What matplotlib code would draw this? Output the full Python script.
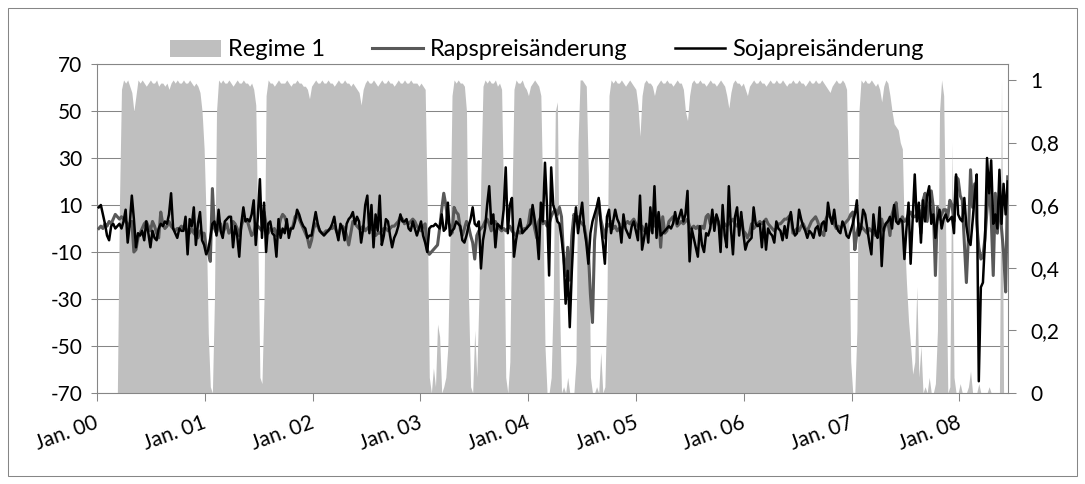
import matplotlib
matplotlib.use("Agg")
import matplotlib.pyplot as plt
import pandas as pd
from matplotlib.patches import Rectangle, Patch
from matplotlib.lines import Line2D

plt.rcParams['font.family'] = ['Lato', 'DejaVu Sans']
plt.rcParams['axes.unicode_minus'] = False

# Weekly price changes, first observation 7 Jan 2000
soja = [
    9, 10, 6, 2, -3, -5, 1, 2, 0, 1,
    2, 0, 3, 8, -6, 2, 14, 4, -8, -2,
    -3, -1, -5, 3, -2, -8, -1, -4, -5, 0,
    2, 1, 3, 2, 6, 15, 0, -2, -4, 0,
    -1, -1, 5, -11, 4, 1, 9, -7, 2, 7,
    -5, -7, -11, -9, -4, 2, 3, -3, 8, -1,
    -4, 3, 4, 5, 5, -8, 1, -3, -12, 2,
    9, 3, 4, 3, 6, 12, -7, 5, 21, -4,
    11, -10, 2, 3, -2, -3, -12, 4, -4, 0,
    -2, 4, -4, 0, 0, 3, 8, 6, 3, 1,
    0, -4, -3, -3, 2, 7, 2, -1, -2, -3,
    -2, -1, 0, 2, 5, -1, -5, 2, 0, -5,
    2, 4, 5, 7, 2, 5, 3, -6, 0, 10,
    14, -2, 10, -8, 6, -1, 14, -7, -3, 4,
    3, -3, -8, -4, -2, 1, 6, 3, 3, 4,
    0, -1, 3, 0, -3, 0, 3, -3, -6, -10,
    0, 1, 1, 2, 1, 0, 6, -1, 0, 11,
    -3, -1, 0, 3, 2, 1, -5, -6, -3, 1,
    4, 9, 2, 1, 3, -17, -5, 0, 10, 18,
    2, 6, -8, 2, 1, 0, 8, 26, -2, 10,
    13, -12, -5, 0, 4, -2, -1, 0, 1, 2,
    10, 4, -2, -13, 11, 3, 28, 9, -20, 26,
    10, 7, 3, 2, -4, -12, -32, -18, -42, -18,
    0, 9, -2, 5, 11, 0, -6, -15, -2, 3,
    6, 9, 13, 2, -6, -15, 5, 8, -2, 3,
    8, 4, 2, -6, 6, 0, -2, -4, 1, 3,
    -1, -5, 14, -9, -4, 2, -6, 9, -2, 18,
    -4, 7, -3, -2, -1, 0, 1, 0, 2, 7,
    2, 5, 8, 3, 6, 16, -14, 0, -4, -8,
    -12, 1, -7, -10, -2, -3, 0, 8, -1, 6,
    3, -10, 10, -3, -8, 18, 0, -11, 5, 9,
    -3, 7, -2, -9, -6, -5, -4, 9, 2, 1,
    2, -8, 3, -9, 0, -2, -3, -6, 3, 0,
    -1, -5, 1, -4, 3, 7, 0, -3, -2, 8,
    4, 1, -1, -4, -1, -2, -4, 0, 1, -3,
    2, 3, -1, 11, 5, 2, 8, 1, -1, -2,
    3, 1, -3, -4, -1, 2, 6, 12, -3, 0,
    8, 6, 0, -6, -11, 6, -2, -4, 9, -16,
    0, 2, 3, 5, 0, 10, 3, 2, 4, 3,
    -13, 0, 11, -15, 4, 23, 3, 11, -6, 12,
    3, 14, 18, 2, 6, -4, 4, 8, 0, 4,
    6, 3, 4, 5, -2, 23, 6, 4, 3, 13,
    1, -5, -7, 3, 14, 23, -65, -25, -23, -5,
    30, 15, 29, 2, 6, 0, 25, 2, 19, 6, 20,
]

raps = [
    0, 1, 0, 2, 1, 3, 2, 4, 6, 5,
    4, 5, 4, 3, 2, 1, 3, -10, -9, -4,
    -2, 0, 2, 3, 1, -1, 3, 1, -2, -4,
    7, 2, 0, 1, 3, 1, 0, -1, 0, 0,
    1, 0, 0, -1, -2, 0, -2, -3, -4, -1,
    -2, -2, -8, -10, -14, 17, 0, -2, 1, 2,
    -2, 0, 2, -2, -1, 3, 2, 0, -3, 1,
    4, 4, 3, 0, -3, -2, 2, 1, 0, -1,
    7, 2, -2, 0, -1, 0, -3, 0, 4, 6,
    5, 2, -2, 0, 1, 5, 6, 4, 2, 0,
    -2, -4, -8, -5, 0, 2, 1, -1, -2, -2,
    -1, -1, 0, 0, 1, -1, -3, 0, 1, 0,
    -3, -7, -2, 3, 2, 1, 0, 0, 1, -1,
    0, 1, 0, -1, -3, -2, -2, -1, 0, 0,
    -1, 0, 1, 1, 2, 3, 5, 4, 2, 3,
    2, 3, 4, 3, 1, 0, -1, 1, 2, -9,
    -11, -10, -9, -8, -7, 0, 8, 15, 10, 3,
    1, -2, 9, 7, 6, 0, -3, 0, 3, 1,
    -3, -6, -13, -3, -1, 0, 1, 3, 4, 2,
    -1, 2, 3, 1, 0, -1, 0, -1, 0, 1,
    -1, -2, -3, -1, -2, -1, 0, 0, 2, 8,
    5, 0, -4, 3, 5, 2, 3, 1, 2, 5,
    7, 8, 6, 9, 5, -12, -20, -8, -22, -3,
    6, 4, 5, 3, 2, 1, -4, -10, -28, -40,
    -5, 5, 12, 4, 0, -4, 2, 1, 3, 0,
    1, -1, 0, 0, 1, 2, 3, 2, 3, 4,
    2, 1, 0, 1, -1, 0, -2, 0, 2, 1,
    5, 6, -8, 5, -2, -1, 3, 4, 5, 4,
    1, 2, 3, 2, 3, 4, 1, 0, 1, 0,
    1, -1, 1, 0, 5, 6, 2, 3, 4, 5,
    2, 0, 1, 2, 1, 2, 3, 4, 2, 1,
    2, 5, -1, -2, -4, -2, 2, 0, 1, 2,
    3, 2, 3, 4, 2, 1, 0, -1, 0, 2,
    2, 3, 4, 4, 5, 6, -2, -1, 0, -1,
    1, 2, 0, -1, 1, 3, 4, 5, 3, 0,
    -2, -3, 4, 6, 5, 4, 2, 0, 1, 0,
    1, 2, 3, 4, 6, 7, -9, -2, 2, 1,
    0, -1, -2, 0, -1, -2, -3, -1, 0, 4,
    -1, 2, 3, -3, 6, 9, 11, 2, 3, 5,
    3, 4, 6, 7, 5, 5, 6, 8, -2, 12,
    15, 3, 10, 16, 9, -20, 9, 4, 6, 8,
    8, 5, 12, 10, 3, 22, 21, 14, 12, -6,
    -23, -3, 25, 9, 19, 2, -8, -13, -12, -4,
    8, 19, 5, -20, 15, -2, 14, 0, -10, -27, 22,
]

# Smoothed probability of regime 1
regime = [
    0, 0, 0, 0, 0, 0, 0, 0, 0, 0,
    0.6, 0.97, 1.0, 0.99, 1.0, 0.98, 0.96, 0.90, 0.95, 1.0,
    0.99, 1.0, 0.99, 0.98, 0.99, 1.0, 0.99, 0.99, 1.0, 0.98,
    0.99, 0.99, 0.98, 0.99, 0.97, 0.99, 1.0, 0.99, 1.0, 0.99,
    0.99, 1.0, 0.99, 0.99, 1.0, 0.99, 0.98, 0.99, 0.98, 0.96,
    0.90, 0.78, 0.55, 0.19, 0.02, 0.0, 0.3, 0.9, 1.0, 0.99,
    1.0, 0.99, 0.99, 1.0, 0.99, 0.98, 0.99, 1.0, 0.99, 0.99,
    1.0, 0.99, 0.99, 0.98, 0.99, 0.97, 0.92, 0.5, 0.05, 0.03,
    0.3, 0.95, 1.0, 0.99, 0.99, 0.98, 0.99, 1.0, 0.99, 0.99,
    0.99, 1.0, 0.99, 0.98, 0.99, 0.99, 1.0, 0.99, 0.99, 0.98,
    0.98, 0.97, 0.94, 0.98, 0.99, 1.0, 0.99, 0.99, 1.0, 0.99,
    0.99, 1.0, 0.99, 0.99, 0.98, 0.99, 1.0, 0.99, 0.99, 1.0,
    0.99, 0.99, 0.98, 0.99, 0.98, 0.97, 0.96, 0.92, 0.97, 0.99,
    1.0, 0.99, 0.99, 1.0, 0.99, 0.98, 0.99, 1.0, 0.99, 0.99,
    1.0, 0.99, 0.99, 0.98, 0.99, 1.0, 0.99, 0.99, 1.0, 0.99,
    0.99, 1.0, 0.99, 0.99, 0.99, 0.98, 0.99, 0.98, 0.97, 0.6,
    0.05, 0.0, 0.08, 0.02, 0.22, 0.18, 0.0, 0.02, 0.05, 0.15,
    0.5, 0.95, 1.0, 0.99, 1.0, 0.99, 0.99, 0.98, 0.9, 0.3,
    0.02, 0.0, 0.2, 0.05, 0.3, 0.7, 0.98, 1.0, 0.99, 1.0,
    0.99, 0.99, 1.0, 0.98, 0.99, 0.97, 0.6, 0.05, 0.0, 0.1,
    0.6, 0.97, 1.0, 0.99, 0.99, 1.0, 0.98, 0.97, 0.95, 0.98,
    0.99, 1.0, 0.99, 0.98, 0.95, 0.6, 0.15, 0.0, 0.0, 0.05,
    0.3, 0.9, 0.93, 0.3, 0.0, 0.02, 0.0, 0.05, 0.0, 0.0,
    0.0, 0.1, 0.8, 1.0, 1.0, 0.99, 0.98, 0.7, 0.05, 0.0,
    0.0, 0.02, 0.0, 0.13, 0.0, 0.02, 0.3, 0.95, 1.0, 0.99,
    1.0, 0.99, 0.99, 1.0, 0.99, 0.98, 0.99, 1.0, 0.99, 0.98,
    0.97, 0.92, 0.82, 0.95, 0.99, 1.0, 0.99, 0.99, 0.98, 0.95,
    0.98, 0.99, 1.0, 0.99, 0.99, 1.0, 0.99, 0.99, 0.98, 0.99,
    1.0, 0.99, 0.99, 0.97, 0.9, 0.87, 0.95, 0.99, 1.0, 0.99,
    0.99, 1.0, 0.99, 0.99, 0.98, 0.99, 1.0, 0.99, 0.99, 0.98,
    0.99, 1.0, 0.99, 0.98, 0.95, 0.91, 0.96, 0.99, 1.0, 0.99,
    0.99, 0.98, 0.99, 0.97, 0.95, 0.98, 0.99, 1.0, 0.99, 0.99,
    1.0, 0.99, 0.99, 0.98, 0.99, 1.0, 0.99, 0.99, 1.0, 0.99,
    0.99, 1.0, 0.99, 0.98, 0.99, 0.99, 1.0, 0.99, 0.99, 1.0,
    0.99, 0.99, 0.98, 0.99, 1.0, 0.99, 0.99, 1.0, 0.99, 0.99,
    1.0, 0.99, 0.98, 0.97, 0.96, 0.98, 0.99, 1.0, 0.99, 0.99,
    1.0, 0.99, 0.97, 0.62, 0.1, 0.0, 0.0, 0.2, 0.9, 1.0,
    0.99, 1.0, 0.99, 0.99, 1.0, 0.99, 0.98, 0.99, 0.97, 0.93,
    0.98, 1.0, 0.99, 0.95, 0.9, 0.86, 0.85, 0.84, 0.8, 0.78,
    0.5, 0.35, 0.23, 0.15, 0.06, 0.1, 0.34, 0.05, 0.15, 0.0,
    0.02, 0.0, 0.05, 0.0, 0.0, 0.03, 0.2, 0.9, 1.0, 0.95,
    0.5, 0.0, 0.02, 0.8, 0.05, 0.0, 0.0, 0.03, 0.0, 0.0,
    0.0, 0.02, 0.07, 0.0, 0.0, 0.0, 0.03, 0.0, 0.0, 0.0,
    0.0, 0.02, 0.0, 0.0, 0.0, 0.0, 0.0, 1.0, 0.0, 0.0, 0.0,
]

year_labels = ["Jan. 00", "Jan. 01", "Jan. 02", "Jan. 03", "Jan. 04",
               "Jan. 05", "Jan. 06", "Jan. 07", "Jan. 08"]
left_ticks = [-70, -50, -30, -10, 10, 30, 50, 70]
right_ticks = [0, 0.2, 0.4, 0.6, 0.8, 1.0]
right_labels = ["0", "0,2", "0,4", "0,6", "0,8", "1"]
legend_labels = ["Regime 1", "Rapspreisänderung", "Sojapreisänderung"]

dates = pd.date_range("2000-01-07", periods=len(soja), freq="7D")
year_starts = pd.date_range("2000-01-01", periods=len(year_labels), freq="YS")

AREA = "#BFBFBF"
RAPS = "#595959"
SOJA = "#000000"
AXIS = "#868686"
W, H = 1085, 484

fig = plt.figure(figsize=(W / 100, H / 100), dpi=100)
rect = [97 / W, 1 - 393 / H, (1008 - 97) / W, (393 - 64) / H]

# base axes: left scale, grid, date ticks
ax = fig.add_axes(rect)
ax.set_ylim(-70, 70)
ax.set_yticks(left_ticks)
ax.grid(axis="y", color=AXIS, lw=0.75)
ax.set_axisbelow(True)
ax.set_xlim(pd.Timestamp("2000-01-01"), pd.Timestamp("2008-06-14"))
ax.set_xticks(year_starts)
ax.tick_params(axis="x", direction="out", length=6, width=0.75, color=AXIS,
               labelbottom=False)
ax.tick_params(axis="y", direction="out", length=4.5, width=0.75, color=AXIS,
               labelsize=15, pad=6)
for s in ax.spines.values():
    s.set_color(AXIS)
    s.set_linewidth(0.75)

# regime probability on the right scale
axr = ax.twinx()
axr.fill_between(dates, regime, 0, color=AREA, lw=0)
axr.set_ylim(0, 1.051)
axr.set_yticks(right_ticks)
axr.set_yticklabels(right_labels)
axr.tick_params(axis="y", direction="out", length=6, width=0.75, color=AXIS,
                labelsize=15, pad=10)
for s in axr.spines.values():
    s.set_color(AXIS)
    s.set_linewidth(0.75)

# price changes on top
axl = ax.twinx()
axl.set_ylim(-70, 70)
axl.plot(dates, raps, color=RAPS, lw=2.2, solid_joinstyle="round")
axl.plot(dates, soja, color=SOJA, lw=1.8, solid_joinstyle="round")
axl.set_axis_off()

for d, lab in zip(year_starts, year_labels):
    ax.annotate(lab, xy=(d, 0), xycoords=("data", "axes fraction"),
                xytext=(-30, -40), textcoords="offset pixels",
                rotation=20, ha="center", va="center", fontsize=15,
                rotation_mode="anchor")

handles = [Patch(facecolor=AREA, edgecolor="none"),
           Line2D([], [], color=RAPS, lw=2.2),
           Line2D([], [], color=SOJA, lw=1.8)]
fig.legend(handles, legend_labels, loc="center",
           bbox_to_anchor=(547 / W, 1 - 50 / H), ncol=3, frameon=False,
           fontsize=17, handlelength=2.15, handletextpad=0.3,
           columnspacing=2.0, borderaxespad=0, borderpad=0)

fig.add_artist(Rectangle((8 / W, 8 / H), (W - 16) / W, (H - 16) / H,
                         transform=fig.transFigure, fill=False,
                         edgecolor=AXIS, lw=0.75))

fig.savefig("out.png", dpi=100)
